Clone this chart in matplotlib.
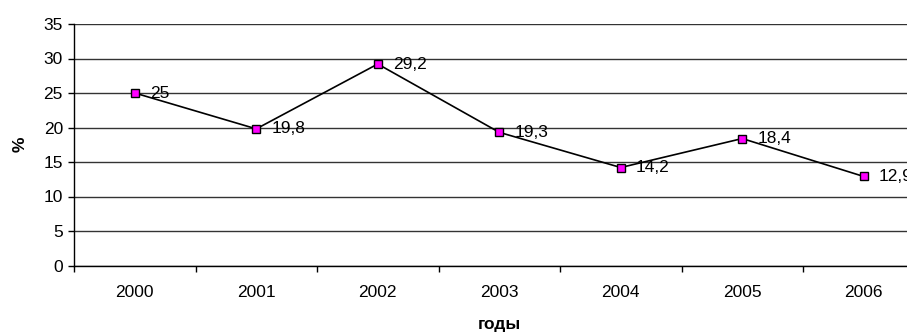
import matplotlib

matplotlib.use("Agg")
import matplotlib.pyplot as plt

years = ["2000", "2001", "2002", "2003", "2004", "2005", "2006"]
values = [25, 19.8, 29.2, 19.3, 14.2, 18.4, 12.9]
y_ticks = [0, 5, 10, 15, 20, 25, 30, 35]

plt.rcParams["font.family"] = ["Liberation Sans", "DejaVu Sans"]

fig = plt.figure(figsize=(9.07, 3.33), dpi=100)
ax = fig.add_axes([74 / 907, 67.5 / 333, 850.5 / 907, 241.5 / 333])

x = list(range(len(years)))
ax.plot(x, values, color="black", linewidth=1.2, marker="s", markersize=6,
        markerfacecolor="#ff00ff", markeredgecolor="black", markeredgewidth=1.0,
        zorder=3)

# data labels to the right of each point, comma decimals
for xi, v in zip(x, values):
    ax.annotate(f"{v:g}".replace(".", ","), (xi, v), xytext=(11, 0),
                textcoords="offset points", va="center", ha="left", fontsize=12.5)

ax.set_xlim(-0.5, len(years) - 0.5)
ax.set_ylim(0, 35)
ax.set_yticks(y_ticks)
ax.set_xticks(x)
ax.set_xticklabels(years)
ax.set_xticks([i - 0.5 for i in range(len(years) + 1)], minor=True)
ax.tick_params(axis="x", which="major", length=0, labelsize=12.5, pad=14)
ax.tick_params(axis="x", which="minor", length=4, width=1, direction="out")
ax.tick_params(axis="y", length=4, width=1, direction="out", labelsize=12.5, pad=4)

ax.yaxis.grid(True, color="#333333", linewidth=1.0)
ax.set_axisbelow(True)
for side in ("top", "right"):
    ax.spines[side].set_visible(False)
for side in ("left", "bottom"):
    ax.spines[side].set_linewidth(1.0)

ax.set_ylabel("%", fontweight="bold", fontsize=12.5, labelpad=11)
ax.set_xlabel("годы", fontweight="bold", fontsize=12.5, labelpad=12)

fig.savefig("out.png", dpi=100)
plt.close(fig)
